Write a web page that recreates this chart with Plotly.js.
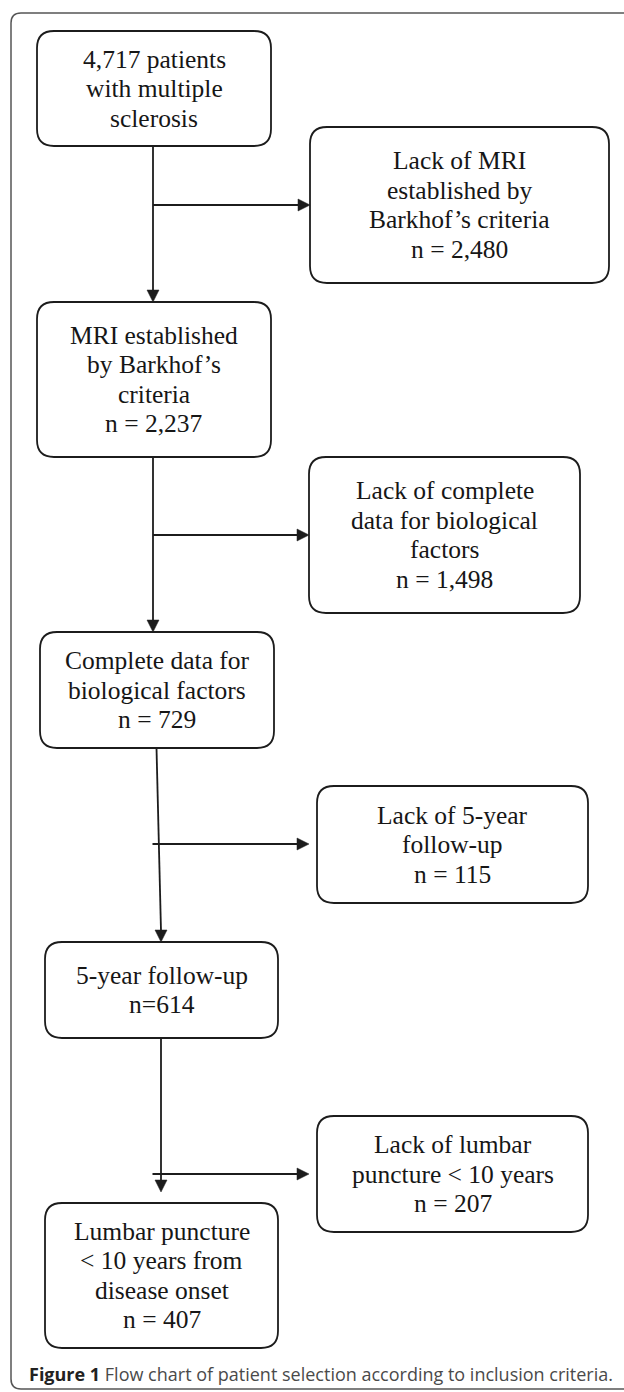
<!DOCTYPE html>
<html>
<head>
<meta charset="utf-8">
<script src="https://cdn.plot.ly/plotly-3.0.1.min.js"></script>
<style>html,body{margin:0;padding:0;background:#fff;}</style>
</head>
<body>
<div id="chart" style="width:624px;height:1392px;"></div>
<script>
// ---- data ----
const includedLabels = [
  "4,717 patients<br>with multiple<br>sclerosis",
  "MRI established<br>by Barkhof’s<br>criteria",
  "Complete data for<br>biological factors",
  "5-year follow-up",
  "Lumbar puncture<br>&lt; 10 years from<br>disease onset"
];
const includedN = [4717, 2237, 729, 614, 407];
const includedNFormat = ["none", "spaced", "spaced", "compact", "spaced"];
const excludedLabels = [
  "Lack of MRI<br>established by<br>Barkhof’s criteria",
  "Lack of complete<br>data for biological<br>factors",
  "Lack of 5-year<br>follow-up",
  "Lack of lumbar<br>puncture &lt; 10 years"
];
const excludedN = [2480, 1498, 115, 207];
const captionBold = "Figure 1";
const captionText = "Flow chart of patient selection according to inclusion criteria.";

// ---- layout geometry (pixels, y downwards) ----
const incBoxes = [
  [37, 31, 271, 146],
  [37, 302, 271, 457],
  [40, 632, 274, 748],
  [45, 942, 278, 1038],
  [45, 1203, 278, 1348]
];
const excBoxes = [
  [310, 127, 609, 283],
  [309, 457, 580, 613],
  [317, 786, 588, 903],
  [317, 1116, 588, 1232]
];
const vLinks = [
  [153, 146, 153, 302],
  [153, 457, 153, 632],
  [156.5, 748, 161, 942],
  [161, 1038, 161, 1192]
];
const hLinks = [
  [153, 205, 310, 205],
  [153, 535, 309, 535],
  [152.5, 844, 309, 844],
  [152.5, 1174, 309, 1174]
];

const LINE = '#1c1c1c';
const TXT = '#161616';
const FS = 25.5;
const LS = 29.5;

function fmt(n, style) {
  const s = n.toLocaleString('en-US');
  if (style === 'compact') return 'n=' + s;
  return 'n = ' + s;
}

function rrect(b, r) {
  const [x0, y0, x1, y1] = b;
  return `M ${x0 + r},${y0} L ${x1 - r},${y0} Q ${x1},${y0} ${x1},${y0 + r} ` +
    `L ${x1},${y1 - r} Q ${x1},${y1} ${x1 - r},${y1} L ${x0 + r},${y1} ` +
    `Q ${x0},${y1} ${x0},${y1 - r} L ${x0},${y0 + r} Q ${x0},${y0} ${x0 + r},${y0} Z`;
}

const shapes = [];
const annotations = [];

// outer frame (open on the right)
shapes.push({
  type: 'path', xref: 'x', yref: 'y',
  path: 'M 700,13 L 21,13 Q 11,13 11,23 L 11,1379 Q 11,1389 21,1389 L 700,1389',
  line: {color: '#555', width: 1.5}
});

function addBox(b, lines) {
  shapes.push({type: 'path', xref: 'x', yref: 'y', path: rrect(b, 17),
    line: {color: LINE, width: 1.8}, fillcolor: 'rgba(0,0,0,0)'});
  const cx = (b[0] + b[2]) / 2, cy = (b[1] + b[3]) / 2;
  const k = lines.length;
  lines.forEach((t, i) => {
    annotations.push({
      x: cx, y: cy + (i - (k - 1) / 2) * LS, xref: 'x', yref: 'y',
      text: t, showarrow: false, xanchor: 'center', yanchor: 'middle',
      font: {family: 'Liberation Serif, Times New Roman, serif', size: FS, color: TXT}
    });
  });
}

includedLabels.forEach((lab, i) => {
  const lines = lab.split('<br>');
  if (includedNFormat[i] !== 'none') lines.push(fmt(includedN[i], includedNFormat[i]));
  addBox(incBoxes[i], lines);
});
excludedLabels.forEach((lab, i) => {
  const lines = lab.split('<br>');
  lines.push(fmt(excludedN[i], 'spaced'));
  addBox(excBoxes[i], lines);
});

const AH = 12, AW = 6;
vLinks.forEach(([x0, y0, x1, y1]) => {
  shapes.push({type: 'line', xref: 'x', yref: 'y', x0: x0, y0: y0, x1: x1, y1: y1 - AH + 1,
    line: {color: LINE, width: 1.8}});
  shapes.push({type: 'path', xref: 'x', yref: 'y',
    path: `M ${x1 - AW},${y1 - AH} L ${x1 + AW},${y1 - AH} L ${x1},${y1} Z`,
    fillcolor: LINE, line: {color: LINE, width: 0.5}});
});
hLinks.forEach(([x0, y0, x1, y1]) => {
  shapes.push({type: 'line', xref: 'x', yref: 'y', x0: x0, y0: y0, x1: x1 - AH + 1, y1: y1,
    line: {color: LINE, width: 1.8}});
  shapes.push({type: 'path', xref: 'x', yref: 'y',
    path: `M ${x1 - AH},${y1 - AW} L ${x1 - AH},${y1 + AW} L ${x1},${y1} Z`,
    fillcolor: LINE, line: {color: LINE, width: 0.5}});
});

annotations.push({
  x: 27, y: 1374, xref: 'x', yref: 'y', xanchor: 'left', yanchor: 'middle', showarrow: false,
  text: `<b><span style="color:#222">${captionBold}</span></b> ${captionText}`,
  font: {family: 'Open Sans, Noto Sans, sans-serif', size: 18, color: '#4a4a4a'}
});

const layout = {
  width: 624, height: 1392,
  margin: {l: 0, r: 0, t: 0, b: 0, pad: 0},
  paper_bgcolor: '#fff', plot_bgcolor: '#fff',
  xaxis: {range: [0, 624], visible: false, fixedrange: true},
  yaxis: {range: [1392, 0], visible: false, fixedrange: true},
  shapes: shapes, annotations: annotations, showlegend: false
};

Plotly.newPlot('chart', [], layout, {displayModeBar: false, staticPlot: true});
</script>
</body>
</html>
